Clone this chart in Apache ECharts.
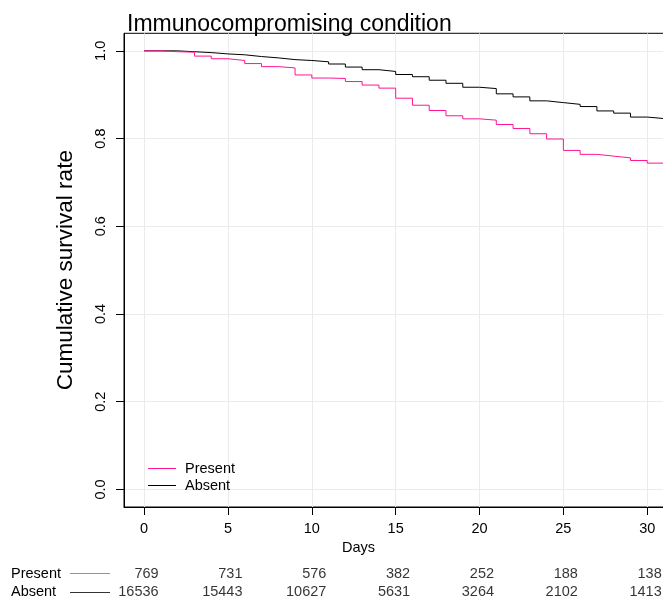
<!DOCTYPE html>
<html><head><meta charset="utf-8">
<script src="https://cdn.jsdelivr.net/npm/echarts@6/dist/echarts.min.js"></script>
<style>html,body{margin:0;padding:0;background:#fff}#c{width:663px;height:600px}</style>
</head><body><div id="c"></div>
<script>
const days = [0,1,2,3,4,5,6,7,8,9,10,11,12,13,14,15,16,17,18,19,20,21,22,23,24,25,26,27,28,29,30];
const absentSurv = [1.000,1.000,0.998,0.996,0.993,0.991,0.987,0.984,0.980,0.978,0.975,0.970,0.963,0.957,0.953,0.946,0.941,0.933,0.926,0.917,0.914,0.902,0.895,0.886,0.882,0.878,0.873,0.863,0.858,0.849,0.845];
const presentSurv = [1.000,0.998,0.997,0.988,0.982,0.978,0.971,0.964,0.961,0.945,0.938,0.937,0.930,0.922,0.915,0.892,0.876,0.864,0.852,0.845,0.842,0.832,0.823,0.811,0.799,0.773,0.764,0.760,0.756,0.750,0.744];
const riskTimes = [0,5,10,15,20,25,30];
const presentAtRisk = [769,731,576,382,252,188,138];
const absentAtRisk = [16536,15443,10627,5631,3264,2102,1413];
const xTicks = [0,5,10,15,20,25,30];
const yTicks = [0,0.2,0.4,0.6,0.8,1.0];
const groups = ['Present','Absent'];

const FONT = "'Liberation Sans', Arial, Helvetica, sans-serif";
const PINK = '#FF1493', BLACK = '#000000';
const xMin = -1.2, xMax = 31.2;
const pxPerDay = 16.77;
const gridLeft = 124, gridW = (xMax - xMin) * pxPerDay;

function stepData(vals){
  const d = days.map((t,i)=>[t, vals[i]]);
  d.push([xMax, vals[vals.length-1]]);
  return d;
}

const chart = echarts.init(document.getElementById('c'), null, {renderer:'canvas'});
chart.setOption({
  animation:false,
  backgroundColor:'#fff',
  textStyle:{fontFamily:FONT},
  title:{text:'Immunocompromising condition', left:122, top:8,
    textStyle:{fontFamily:FONT, fontSize:23, fontWeight:'normal', color:'#000'}},
  grid:[
    {left:gridLeft, top:33.3, width:gridW, height:473.7, show:true, borderColor:'#000', borderWidth:1,
     backgroundColor:'transparent', outerBoundsMode:'none', containLabel:false},
    {left:gridLeft, top:565, width:gridW, height:36, outerBoundsMode:'none', containLabel:false}
  ],
  legend:{data:groups, orient:'vertical', left:143, top:456, icon:'rect', itemWidth:28, itemHeight:1, itemGap:2,
    textStyle:{fontFamily:FONT, fontSize:14.5, color:'#000', padding:[0,0,0,4]}},
  xAxis:[
    {type:'value', gridIndex:0, min:xMin, max:xMax,
     axisLine:{show:true, onZero:false, lineStyle:{color:'#000', width:1}},
     axisTick:{show:true, length:8, lineStyle:{color:'#000'}, customValues:xTicks},
     axisLabel:{show:true, customValues:xTicks, margin:14, fontFamily:FONT, fontSize:14.5, color:'#000'},
     splitLine:{show:true, lineStyle:{color:'#ebebeb', width:1}}},
    {type:'value', gridIndex:1, min:xMin, max:xMax, show:false}
  ],
  yAxis:[
    {type:'value', gridIndex:0, min:-0.04, max:1.04,
     name:'Cumulative survival rate', nameLocation:'middle', nameGap:47,
     nameTextStyle:{fontFamily:FONT, fontSize:22.5, color:'#000'},
     axisLine:{show:true, onZero:false, lineStyle:{color:'#000', width:1}},
     axisTick:{show:true, length:8, lineStyle:{color:'#000'}, customValues:yTicks},
     axisLabel:{show:true, customValues:yTicks, rotate:90, margin:16, fontFamily:FONT, fontSize:14.5, color:'#000',
       formatter:v=>Number(v).toFixed(1)},
     splitLine:{show:true, lineStyle:{color:'#ebebeb', width:1}}},
    {type:'category', gridIndex:1, data:groups.slice().reverse(),
     axisLine:{show:false}, axisTick:{show:false}, splitLine:{show:false},
     axisLabel:{show:true, interval:0, hideOverlap:false, margin:113, align:'left', fontFamily:FONT, fontSize:14.5, color:'#000'}}
  ],
  series:[
    {name:'Absent', type:'line', step:'end', showSymbol:false, symbol:'none', data:stepData(absentSurv),
     lineStyle:{color:BLACK, width:1}, itemStyle:{color:BLACK}, xAxisIndex:0, yAxisIndex:0, z:3},
    {name:'Present', type:'line', step:'end', showSymbol:false, symbol:'none', data:stepData(presentSurv),
     lineStyle:{color:PINK, width:1}, itemStyle:{color:PINK}, xAxisIndex:0, yAxisIndex:0, z:4},
    {name:'riskPresent', type:'scatter', xAxisIndex:1, yAxisIndex:1, symbolSize:1, itemStyle:{color:'rgba(0,0,0,0)'},
     data:riskTimes.map((t,i)=>[t,'Present',presentAtRisk[i]]),
     label:{show:true, position:'inside', align:'right', verticalAlign:'middle', offset:[14.5,0],
       fontFamily:FONT, fontSize:14.5, color:'#000', formatter:p=>String(p.value[2])}},
    {name:'riskAbsent', type:'scatter', xAxisIndex:1, yAxisIndex:1, symbolSize:1, itemStyle:{color:'rgba(0,0,0,0)'},
     data:riskTimes.map((t,i)=>[t,'Absent',absentAtRisk[i]]),
     label:{show:true, position:'inside', align:'right', verticalAlign:'middle', offset:[14.5,0],
       fontFamily:FONT, fontSize:14.5, color:'#000', formatter:p=>String(p.value[2])}}
  ],
  graphic:[
    {type:'text', left:342, top:540, style:{text:'Days', fontFamily:FONT, fontSize:14.5, fill:'#000'}},
    {type:'rect', shape:{x:70, y:573, width:40, height:1}, style:{fill:'#FF5AAF'}, z:100},
    {type:'rect', shape:{x:70, y:592, width:40, height:1}, style:{fill:'#333333'}, z:100}
  ]
});
</script></body></html>
